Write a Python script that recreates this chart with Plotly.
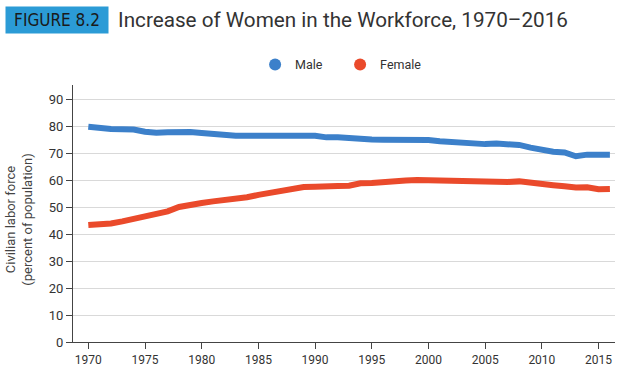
import plotly.graph_objects as go

years = list(range(1970, 2017))
male = [79.7, 79.1, 78.9, 78.8, 78.7, 77.9, 77.5, 77.7, 77.9, 77.8,
        77.4, 77.0, 76.6, 76.4, 76.4, 76.3, 76.3, 76.2, 76.2, 76.4,
        76.4, 75.8, 75.8, 75.4, 75.1, 75.0, 74.9, 75.0, 74.9, 74.7,
        74.8, 74.4, 74.1, 73.5, 73.3, 73.3, 73.5, 73.2, 73.0, 72.0,
        71.2, 70.5, 70.2, 68.8, 69.4, 69.3, 69.4]
female = [43.3, 43.4, 43.9, 44.7, 45.7, 46.3, 47.3, 48.4, 50.0, 50.9,
          51.5, 52.1, 52.6, 52.9, 53.6, 54.5, 55.3, 56.0, 56.6, 57.4,
          57.5, 57.4, 57.8, 57.9, 58.8, 58.9, 59.3, 59.8, 59.8, 60.0,
          59.9, 59.8, 59.6, 59.5, 59.2, 59.3, 59.4, 59.3, 59.5, 59.2,
          58.6, 58.1, 57.7, 57.2, 57.3, 56.6, 56.7]
x_ticks = list(range(1970, 2016, 5))
y_ticks = list(range(0, 91, 10))

MALE_C = "#3c80ca"
FEMALE_C = "#ea4a2b"

fig = go.Figure()
fig.add_trace(go.Scatter(x=years, y=male, mode="lines", line=dict(color=MALE_C, width=6),
                         showlegend=False, hoverinfo="skip"))
fig.add_trace(go.Scatter(x=years, y=female, mode="lines", line=dict(color=FEMALE_C, width=6),
                         showlegend=False, hoverinfo="skip"))
fig.add_trace(go.Scatter(x=[None], y=[None], mode="markers", name="Male",
                         marker=dict(color=MALE_C, size=12)))
fig.add_trace(go.Scatter(x=[None], y=[None], mode="markers", name="Female",
                         marker=dict(color=FEMALE_C, size=12)))

fig.update_layout(
    width=622, height=376,
    margin=dict(l=73, r=7, t=85, b=34, autoexpand=False),
    paper_bgcolor="white", plot_bgcolor="white",
    font=dict(family="Roboto, Arial, sans-serif", color="#333", size=12),
    legend=dict(orientation="h", x=0.336, y=1.078, xanchor="left", yanchor="middle",
                font=dict(size=12.5, color="#333"), itemsizing="constant",
                tracegroupgap=0, entrywidth=40),
    xaxis=dict(range=[1968.65, 2016.45], tickvals=x_ticks, ticks="outside", ticklen=6,
               tickcolor="#444", showline=True, linecolor="#444", linewidth=1.2,
               showgrid=False, zeroline=False, automargin=False,
               tickfont=dict(size=12, color="#333")),
    yaxis=dict(range=[0, 95.2], tickvals=y_ticks, ticks="outside", ticklen=6,
               tickcolor="#444", showline=True, linecolor="#444", linewidth=1.2,
               showgrid=True, gridcolor="#d9d9d9", gridwidth=1.2, zeroline=False,
               automargin=False, tickfont=dict(size=13, color="#333")),
)

fig.add_annotation(xref="paper", yref="paper", x=-0.1, y=0.475, xanchor="center", yanchor="middle",
                   text="Civilian labor force<br>(percent of population)", showarrow=False,
                   textangle=-90, font=dict(size=13, color="#444"))
fig.add_annotation(xref="paper", yref="paper", x=-0.1255, y=1.253, xanchor="left", yanchor="middle",
                   text="FIGURE 8.2", showarrow=False, bgcolor="#2b9bd6",
                   font=dict(family="DejaVu Sans Condensed, sans-serif", size=17, color="#1a1a1a"),
                   borderpad=3, width=96, height=20)
fig.add_annotation(xref="paper", yref="paper", x=0.0793, y=1.253, xanchor="left", yanchor="middle",
                   text="Increase of Women in the Workforce, 1970–2016", showarrow=False,
                   font=dict(family="Roboto, Arial, sans-serif", size=20.7, color="#333"))

fig.write_html("out.html", config={"displayModeBar": False},
               post_script="document.body.style.margin='0';document.body.style.overflow='hidden';")
